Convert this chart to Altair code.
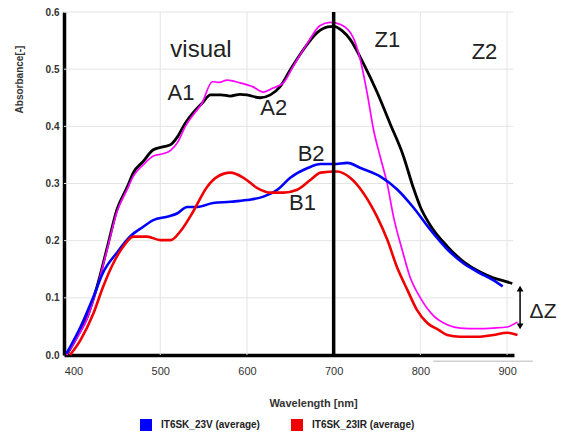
import altair as alt
import pandas as pd

# ---- data ----
wl_black = [392, 404, 416, 427, 439, 450, 462, 469, 480, 492, 503, 512, 520, 529, 538, 548, 558, 570, 581, 592,
            600, 615, 627, 638, 650, 665, 681, 693, 700, 710, 719, 734, 750, 765, 780, 792, 800, 811, 831, 850,
            869, 884, 900, 906]
abs_black = [0.0, 0.032, 0.067, 0.119, 0.189, 0.254, 0.294, 0.319, 0.338, 0.359, 0.364, 0.368, 0.382, 0.406, 0.424,
             0.44, 0.455, 0.455, 0.453, 0.456, 0.455, 0.45, 0.455, 0.469, 0.499, 0.534, 0.564, 0.574, 0.575, 0.567,
             0.552, 0.511, 0.46, 0.405, 0.35, 0.292, 0.259, 0.228, 0.19, 0.163, 0.145, 0.135, 0.128, 0.125]

wl_mag = [392, 404, 416, 427, 439, 450, 462, 469, 480, 492, 503, 512, 520, 529, 538, 548, 560, 568, 577, 592,
          607, 619, 630, 642, 653, 670, 684, 696, 708, 722, 731, 739, 746, 754, 762, 769, 779, 788, 800, 815,
          831, 846, 866, 884, 900, 912]
abs_mag = [0.0, 0.03, 0.065, 0.117, 0.186, 0.25, 0.29, 0.313, 0.332, 0.348, 0.352, 0.358, 0.372, 0.4, 0.42,
           0.44, 0.478, 0.477, 0.481, 0.476, 0.469, 0.46, 0.467, 0.476, 0.504, 0.546, 0.576, 0.582, 0.578, 0.557,
           0.515, 0.455, 0.394, 0.345, 0.298, 0.242, 0.184, 0.137, 0.1, 0.069, 0.053, 0.047, 0.046, 0.047, 0.049,
           0.058]

wl_blue = [392, 408, 423, 434, 450, 465, 480, 492, 508, 520, 531, 543, 561, 581, 600, 619, 635, 650, 670, 685,
           700, 716, 731, 754, 773, 792, 811, 831, 850, 869, 884, 895]
abs_blue = [0.003, 0.049, 0.102, 0.144, 0.179, 0.207, 0.224, 0.236, 0.242, 0.248, 0.259, 0.259, 0.266, 0.268,
            0.271, 0.277, 0.289, 0.31, 0.327, 0.334, 0.334, 0.336, 0.327, 0.312, 0.29, 0.258, 0.22, 0.185, 0.16,
            0.143, 0.131, 0.12]

wl_red = [396, 408, 423, 434, 446, 457, 469, 485, 500, 512, 523, 538, 554, 566, 581, 596, 612, 627, 642, 658,
          673, 685, 704, 719, 734, 750, 762, 773, 785, 796, 808, 821, 831, 846, 866, 884, 900, 912]
abs_red = [0.0, 0.026, 0.073, 0.119, 0.161, 0.189, 0.207, 0.207, 0.201, 0.201, 0.216, 0.251, 0.294, 0.312, 0.319,
           0.31, 0.292, 0.284, 0.284, 0.289, 0.306, 0.319, 0.321, 0.31, 0.284, 0.242, 0.201, 0.154, 0.114, 0.079,
           0.056, 0.044, 0.035, 0.032, 0.032, 0.035, 0.039, 0.035]

series_names = ["IT6SK_23V (average)", "IT6SK_23IR (average)"]
series_colors = ["#0000ff", "#f00000"]

x_ticks = [400, 500, 600, 700, 800, 900]
y_ticks = [0.0, 0.1, 0.2, 0.3, 0.4, 0.5, 0.6]
v_grid = [500, 600, 800, 900]
h_grid = [0.1, 0.2, 0.3, 0.4, 0.5, 0.6]

labels_txt = ["visual", "A1", "A2", "B2", "B1", "Z1", "Z2"]
labels_x = [547, 524, 631, 674, 664, 762, 874]
labels_y = [0.521, 0.446, 0.42, 0.339, 0.254, 0.539, 0.518]
labels_size = [24, 22, 22, 22, 22, 22, 22]

FONT = "Liberation Sans"
X_DOMAIN = [389, 908]
xs = alt.Scale(domain=X_DOMAIN, nice=False, zero=False)
ys = alt.Scale(domain=[0, 0.6], nice=False)

df_black = pd.DataFrame({"wl": wl_black, "a": abs_black})
df_mag = pd.DataFrame({"wl": wl_mag, "a": abs_mag})
df_series = pd.concat([
    pd.DataFrame({"wl": wl_blue, "a": abs_blue, "s": series_names[0]}),
    pd.DataFrame({"wl": wl_red, "a": abs_red, "s": series_names[1]}),
], ignore_index=True)

x_axis = alt.Axis(values=x_ticks, grid=False, ticks=False, domain=True, domainColor="black", domainWidth=3.5,
                  labelFont=FONT, labelFontSize=11, labelColor="#333", labelPadding=10,
                  title="Wavelength [nm]", titleFont=FONT, titleFontSize=11, titleFontWeight="bold",
                  titleColor="#333", titleX=249, titleY=48, titleBaseline="middle", titleAlign="center")
y_axis = alt.Axis(values=y_ticks, format=".1f", grid=False, ticks=False, domain=True, domainColor="black",
                  domainWidth=3.5, labelFont=FONT, labelFontSize=10, labelFontWeight="bold", labelColor="#333",
                  labelPadding=5, title="Absorbance[-]", titleFont=FONT, titleFontSize=10, titleFontWeight="bold",
                  titleColor="#333", titleX=-45, titleY=67, titleAngle=270, titleAlign="center",
                  titleBaseline="middle")


def X(field):
    return alt.X(field, scale=xs, axis=x_axis)


def Y(field):
    return alt.Y(field, scale=ys, axis=y_axis)


vgrid = alt.Chart(pd.DataFrame({"x": v_grid, "y0": 0.0, "y1": 0.6})).mark_rule(
    color="#e4e4e4", strokeWidth=1).encode(x=X("x:Q"), y=Y("y0:Q"), y2="y1:Q")
hgrid = alt.Chart(pd.DataFrame({"y": h_grid, "x0": X_DOMAIN[0], "x1": 907})).mark_rule(
    color="#e4e4e4", strokeWidth=1).encode(y=Y("y:Q"), x=X("x0:Q"), x2="x1:Q")

gray_base = alt.Chart(pd.DataFrame({"y": [-0.011], "x0": [815], "x1": [930]})).mark_rule(
    color="#cfcfcf", strokeWidth=1.5).encode(y=Y("y:Q"), x=X("x0:Q"), x2="x1:Q")

line_black = alt.Chart(df_black).mark_line(color="black", strokeWidth=2.8, interpolate="monotone").encode(
    x=X("wl:Q"), y=Y("a:Q"))
line_mag = alt.Chart(df_mag).mark_line(color="#ff00ff", strokeWidth=1.7, interpolate="monotone").encode(
    x=X("wl:Q"), y=Y("a:Q"))
lines_br = alt.Chart(df_series).mark_line(strokeWidth=2.6, interpolate="monotone").encode(
    x=X("wl:Q"), y=Y("a:Q"),
    color=alt.Color("s:N", scale=alt.Scale(domain=series_names, range=series_colors),
                    legend=alt.Legend(title=None, orient="none", legendX=76, legendY=407,
                                      direction="horizontal", symbolType="square", symbolSize=36,
                                      symbolStrokeWidth=6, labelFont=FONT, labelFontSize=10,
                                      labelFontWeight="bold", labelColor="#222", labelOffset=9,
                                      columnPadding=22)))

vline = alt.Chart(pd.DataFrame({"x": [700], "y0": [0.0], "y1": [0.6]})).mark_rule(
    color="black", strokeWidth=3.5).encode(x=X("x:Q"), y=Y("y0:Q"), y2="y1:Q")

texts = alt.Chart(pd.DataFrame({"t": labels_txt, "x": labels_x, "y": labels_y, "fs": labels_size})).mark_text(
    font=FONT, color="#222", align="center", baseline="alphabetic").encode(
    x=X("x:Q"), y=Y("y:Q"), text="t:N", size=alt.Size("fs:Q", scale=None, legend=None))

dz = alt.Chart(pd.DataFrame({"t": ["ΔZ"], "x": [926], "y": [0.065]})).mark_text(
    font=FONT, fontSize=21, color="#222", align="left", baseline="alphabetic").encode(
    x=X("x:Q"), y=Y("y:Q"), text="t:N")

arrow_shaft = alt.Chart(pd.DataFrame({"x": [915], "y0": [0.051], "y1": [0.115]})).mark_rule(
    color="black", strokeWidth=1.5).encode(x=X("x:Q"), y=Y("y0:Q"), y2="y1:Q")
arrow_heads = alt.Chart(pd.DataFrame({"x": [915, 915], "y": [0.116, 0.05],
                                      "shp": ["triangle-up", "triangle-down"]})).mark_point(
    filled=True, color="black", size=45, opacity=1).encode(
    x=X("x:Q"), y=Y("y:Q"), shape=alt.Shape("shp:N", scale=None, legend=None))

chart = alt.layer(
    vgrid, hgrid, gray_base, line_black, line_mag, lines_br, vline, texts, dz, arrow_shaft, arrow_heads
).properties(
    width=450, height=343,
    autosize=alt.AutoSizeParams(type="none"),
    padding={"left": 56, "top": 4, "right": 45, "bottom": 78},
).configure_view(stroke=None)

chart.save("out.html", embed_options={"renderer": "svg", "actions": False})
